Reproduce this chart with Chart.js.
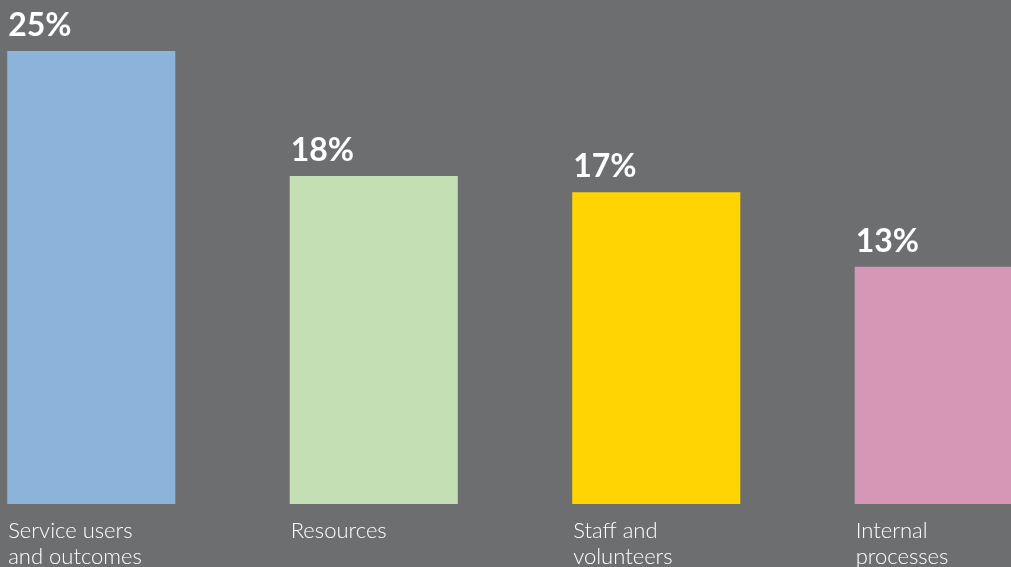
<!DOCTYPE html>
<html>
<head>
<meta charset="utf-8">
<script src="https://cdn.jsdelivr.net/npm/chart.js@4"></script>
<style>
  html, body { margin: 0; padding: 0; background: #6d6e70; overflow: hidden; }
  /* chart is a bit wider than the window: first bar sits near the left edge, last one is cut off */
  #wrap { position: absolute; left: -50px; top: 0; width: 1130px; height: 567px; }
</style>
</head>
<body>
<div id="wrap"><canvas id="chart"></canvas></div>
<script>
// 카테고리 (two lines each)
const categories = [
    ['Service users', 'and outcomes'],
    ['Resources'],
    ['Staff and', 'volunteers'],
    ['Internal', 'processes']
];
// values in %
const values = [25, 18.1, 17.2, 13.1];
const valueLabels = ['25%', '18%', '17%', '13%'];
const barColors = ['#8cb3d9', '#c5dfb4', '#ffd400', '#d597b5'];

// draws value text above bars and category text under them, left aligned to each bar
const barLabels = {
    id: 'barLabels',
    afterDatasetsDraw(chart) {
        const ctx = chart.ctx;
        const meta = chart.getDatasetMeta(0);
        ctx.save();
        ctx.fillStyle = '#ffffff';
        ctx.textAlign = 'left';
        ctx.textBaseline = 'alphabetic';
        meta.data.forEach((bar, i) => {
            const left = bar.x - bar.width / 2;
            ctx.font = 'bold 32px Lato, "Open Sans", sans-serif';
            ctx.fillText(valueLabels[i], left + 1, bar.y - 15);
            ctx.font = '300 22px Lato, "Open Sans", sans-serif';
            categories[i].forEach((line, j) => {
                ctx.fillText(line, left + 1, bar.base + 34 + j * 26);
            });
        });
        ctx.restore();
    }
};

new Chart(document.getElementById('chart'), {
    type: 'bar',
    data: {
        labels: categories.map(c => c.join(' ')),
        datasets: [{
            data: values,
            backgroundColor: barColors,
            borderWidth: 0,
            barPercentage: 0.595,
            categoryPercentage: 1
        }]
    },
    options: {
        responsive: true,
        maintainAspectRatio: false,
        animation: false,
        layout: { padding: { top: 51, bottom: 63, left: 0, right: 0 } },
        plugins: {
            legend: { display: false },
            tooltip: { enabled: false }
        },
        scales: {
            x: { display: false },
            y: { display: false, min: 0, max: 25 }
        }
    },
    plugins: [barLabels]
});
</script>
</body>
</html>
